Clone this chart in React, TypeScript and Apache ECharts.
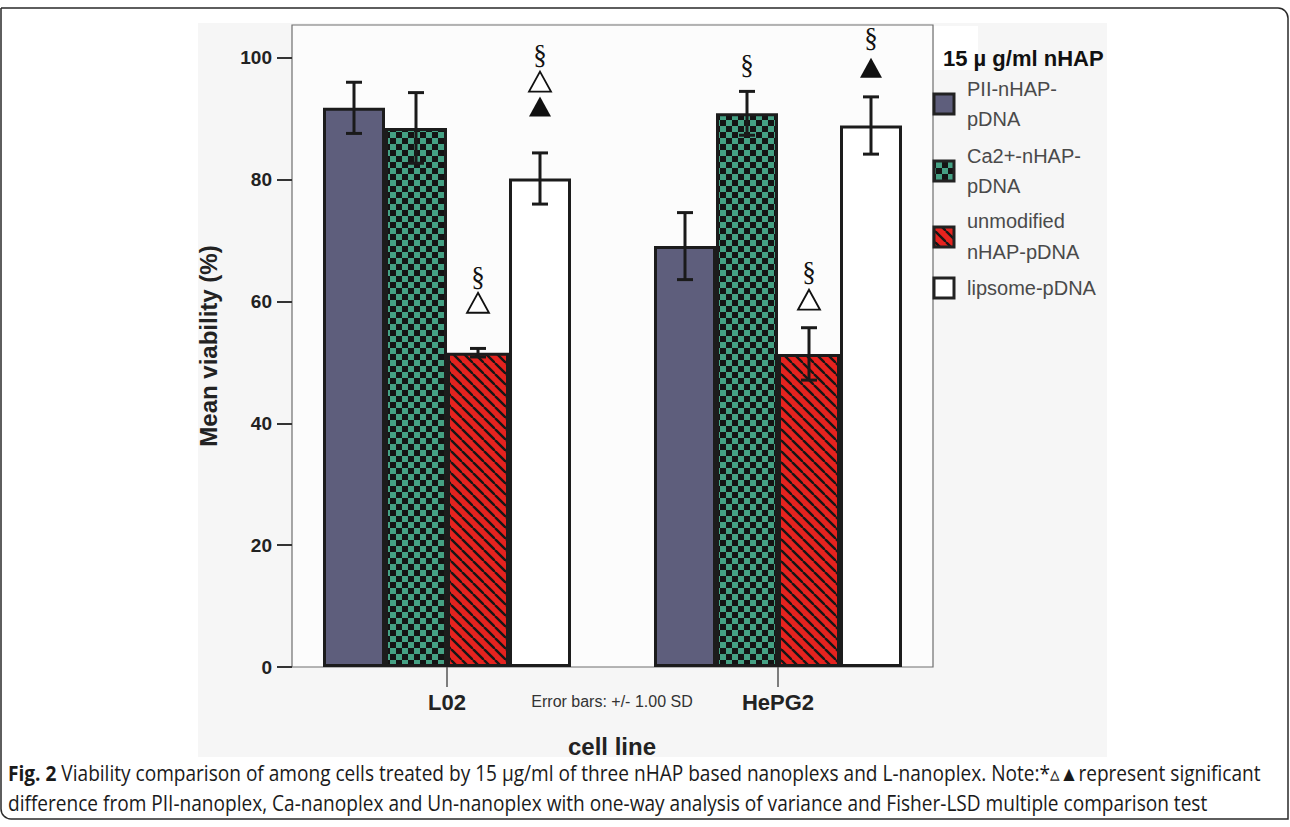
import React, { useEffect, useRef } from 'react';
import * as echarts from 'echarts';

// ---------- data ----------
const categories = ['L02', 'HePG2'];
const seriesNames = ['PII-nHAP-pDNA', 'Ca2+-nHAP-pDNA', 'unmodified nHAP-pDNA', 'lipsome-pDNA'];
const legendLines = [['PII-nHAP-', 'pDNA'], ['Ca2+-nHAP-', 'pDNA'], ['unmodified', 'nHAP-pDNA'], ['lipsome-pDNA']];
const legendTitle = '15 \u00b5 g/ml nHAP';
const pllMean = [91.8, 69.1];
const caMean = [88.5, 90.9];
const unmodMean = [51.6, 51.4];
const lipoMean = [80.2, 88.9];
const pllSD = [4.2, 5.5];
const caSD = [5.8, 3.6];
const unmodSD = [0.7, 4.3];
const lipoSD = [4.2, 4.7];
const yTicks = [0, 20, 40, 60, 80, 100];
const yMax = 105.4;
const markSymbols = ['\u00a7', '\u25b3', '\u25b2'];
// [category, series, level (%), symbol index]
const sigMarks = [
  [0, 2, 63.7, 0], [0, 2, 59.8, 1],
  [0, 3, 100.2, 0], [0, 3, 96.1, 1], [0, 3, 92.0, 2],
  [1, 1, 98.5, 0],
  [1, 2, 64.5, 0], [1, 2, 60.3, 1],
  [1, 3, 103.0, 0], [1, 3, 98.4, 2],
];
const yName = 'Mean viability (%)';
const xName = 'cell line';
const errorNote = 'Error bars: +/- 1.00 SD';
const captionBold = 'Fig. 2';
const captionLine1 = ' Viability comparison of among cells treated by 15 \u00b5g/ml of three nHAP based nanoplexs and L-nanoplex. Note:*\u25b5\u25b2represent significant';
const captionLine2 = 'difference from PII-nanoplex, Ca-nanoplex and Un-nanoplex with one-way analysis of variance and Fisher-LSD multiple comparison test';

const means = [pllMean, caMean, unmodMean, lipoMean];
const sds = [pllSD, caSD, unmodSD, lipoSD];

// ---------- styles ----------
const SANS = '"Liberation Sans", Arial, sans-serif';
const BAR_W = 62;
const PLL = '#5e5e7c';
const TEAL = '#45a184';
const RED = '#e5231f';
const EDGE = '#1c1c1c';

function checkerPattern() {
  const c = document.createElement('canvas');
  c.width = 12; c.height = 12;
  const g = c.getContext('2d')!;
  g.fillStyle = TEAL; g.fillRect(0, 0, 12, 12);
  g.fillStyle = '#141414'; g.fillRect(0, 0, 6, 6); g.fillRect(6, 6, 6, 6);
  return { image: c, repeat: 'repeat', imageWidth: 12, imageHeight: 12 };
}
function stripePattern() {
  const n = 11;
  const c = document.createElement('canvas');
  c.width = n; c.height = n;
  const g = c.getContext('2d')!;
  g.fillStyle = RED; g.fillRect(0, 0, n, n);
  g.strokeStyle = '#161616'; g.lineWidth = 2.4;
  for (const k of [-n, 0, n]) { g.beginPath(); g.moveTo(k, 0); g.lineTo(k + n, n); g.stroke(); }
  return { image: c, repeat: 'repeat', imageWidth: n, imageHeight: n };
}
function textWidth(t: string, font: string) {
  const g = document.createElement('canvas').getContext('2d')!;
  g.font = font;
  return g.measureText(t).width;
}

export default function App() {
  const ref = useRef<HTMLDivElement>(null);
  useEffect(() => {
    if (!ref.current) return;
    const chart = echarts.init(ref.current, null, { renderer: 'svg' });
    const fills: any[] = [PLL, checkerPattern(), stripePattern(), '#ffffff'];

    const bars = seriesNames.map((name, i) => ({
      name, type: 'bar', data: means[i], barWidth: BAR_W, barGap: '0%', z: 2,
      itemStyle: { color: fills[i], borderColor: EDGE, borderWidth: 3 },
    }));

    const errData: number[][] = [];
    means.forEach((m, s) => m.forEach((v, c) => errData.push([c, s, v, sds[s][c]])));

    const errSeries = {
      type: 'custom', name: 'err', z: 5, data: errData, encode: { x: 0, y: 2 },
      renderItem: (_p: any, api: any) => {
        const c = api.value(0), s = api.value(1), m = api.value(2), sd = api.value(3);
        const x = api.coord([c, m])[0] + (s - 1.5) * BAR_W;
        const yT = api.coord([c, m + sd])[1];
        const yB = api.coord([c, m - sd])[1];
        const cap = 8;
        const st = { stroke: '#1a1a1a', lineWidth: 3 };
        return {
          type: 'group', children: [
            { type: 'line', shape: { x1: x, y1: yT, x2: x, y2: yB }, style: st },
            { type: 'line', shape: { x1: x - cap, y1: yT, x2: x + cap, y2: yT }, style: st },
            { type: 'line', shape: { x1: x - cap, y1: yB, x2: x + cap, y2: yB }, style: st },
          ],
        };
      },
    };

    const markSeries = {
      type: 'custom', name: 'marks', z: 6, data: sigMarks, encode: { x: 0, y: 2 },
      renderItem: (_p: any, api: any) => {
        const c = api.value(0), s = api.value(1), lvl = api.value(2), k = api.value(3);
        const pt = api.coord([c, lvl]);
        const cx = pt[0] + (s - 1.5) * BAR_W, cy = pt[1];
        if (k === 0) {
          return { type: 'text', x: cx, y: cy - 2, style: { text: markSymbols[0], fontSize: 27, fontFamily: '"Liberation Serif", serif', fill: '#111', align: 'center', verticalAlign: 'middle' } };
        }
        const w = 11, h = 10;
        return {
          type: 'polygon', shape: { points: [[cx, cy - h], [cx + w, cy + h], [cx - w, cy + h]] },
          style: k === 1 ? { fill: '#ffffff', stroke: '#111', lineWidth: 1.8 } : { fill: '#111' },
        };
      },
    };

    // legend (drawn with graphic elements)
    const iconY = [104, 171, 237, 288];
    const lineY = [[89, 119], [156, 186], [221, 252], [288]];
    const legendEls: any[] = [];
    legendLines.forEach((lines, i) => {
      legendEls.push({ type: 'rect', shape: { x: 934, y: iconY[i] - 10, width: 20, height: 20 }, style: { fill: fills[i], stroke: '#222', lineWidth: 3 }, z: 10 });
      lines.forEach((t, j) => legendEls.push({ type: 'text', x: 967, y: lineY[i][j], style: { text: t, fontSize: 20, fontFamily: SANS, fill: '#4a4a4a', verticalAlign: 'middle' }, z: 10 }));
    });

    // caption
    const capFam = '"Open Sans", sans-serif';
    const capSize = 21;
    const wB = textWidth(captionBold, `bold ${capSize}px ${capFam}`);
    const wR = textWidth(captionLine1, `${capSize}px ${capFam}`);
    const sx = 1254 / (wB + wR);

    const graphic = [
      { type: 'rect', z: -5, shape: { x: 1, y: 8, width: 1287, height: 811, r: [0, 10, 0, 10] }, style: { fill: '#ffffff', stroke: '#2a2a2a', lineWidth: 1.5 } },
      { type: 'rect', z: -4, shape: { x: 198, y: 23, width: 909, height: 734 }, style: { fill: '#f6f6f6' } },
      { type: 'rect', z: -3, shape: { x: 292, y: 25, width: 641, height: 642 }, style: { fill: '#fcfcfc', stroke: '#6e6e6e', lineWidth: 1.2 } },
      { type: 'rect', z: -3, shape: { x: 934, y: 26, width: 44, height: 44 }, style: { fill: '#ffffff' } },
      { type: 'text', x: 943, y: 58, z: 10, style: { text: legendTitle, fontSize: 22, fontWeight: 'bold', fontFamily: SANS, fill: '#111', verticalAlign: 'middle' } },
      ...legendEls,
      { type: 'text', x: 208, y: 346, rotation: Math.PI / 2, z: 10, style: { text: yName, fontSize: 24, fontWeight: 'bold', fontFamily: SANS, fill: '#222', align: 'center', verticalAlign: 'middle' } },
      { type: 'text', x: 612, y: 746, z: 10, style: { text: xName, fontSize: 24, fontWeight: 'bold', fontFamily: SANS, fill: '#222', align: 'center', verticalAlign: 'middle' } },
      { type: 'text', x: 612, y: 701, z: 10, style: { text: errorNote, fontSize: 16, fontFamily: SANS, fill: '#333', align: 'center', verticalAlign: 'middle' } },
      { type: 'text', x: 8, y: 773, scaleX: sx, z: 10, style: { text: captionBold, fontSize: capSize, fontWeight: 'bold', fontFamily: capFam, fill: '#1a1a1a', verticalAlign: 'middle' } },
      { type: 'text', x: 8 + wB * sx, y: 773, scaleX: sx, z: 10, style: { text: captionLine1, fontSize: capSize, fontFamily: capFam, fill: '#1a1a1a', verticalAlign: 'middle' } },
      { type: 'text', x: 8, y: 803, scaleX: sx, z: 10, style: { text: captionLine2, fontSize: capSize, fontFamily: capFam, fill: '#1a1a1a', verticalAlign: 'middle' } },
    ];

    chart.setOption({
      animation: false,
      backgroundColor: '#ffffff',
      grid: { left: 281.5, right: 346.5, top: 25, bottom: 160 },
      xAxis: {
        type: 'category', data: categories,
        axisLine: { show: false },
        axisTick: { show: true, alignWithLabel: true, length: 20, lineStyle: { color: '#555', width: 1.5 } },
        axisLabel: { margin: 24, fontSize: 22, fontWeight: 'bold', fontFamily: SANS, color: '#222' },
        splitLine: { show: false },
      },
      yAxis: {
        type: 'value', min: 0, max: yMax, offset: -10.5,
        axisLine: { show: false },
        axisTick: { show: true, length: 15, customValues: yTicks, lineStyle: { color: '#333', width: 2 } },
        axisLabel: { customValues: yTicks, margin: 20, fontSize: 19, fontWeight: 'bold', fontFamily: SANS, color: '#222' },
        splitLine: { show: false },
      },
      series: [...bars, errSeries, markSeries],
      graphic: { elements: graphic },
    });
    return () => chart.dispose();
  }, []);
  return <div ref={ref} style={{ position: 'fixed', left: 0, top: 0, width: 1290, height: 827 }} />;
}
